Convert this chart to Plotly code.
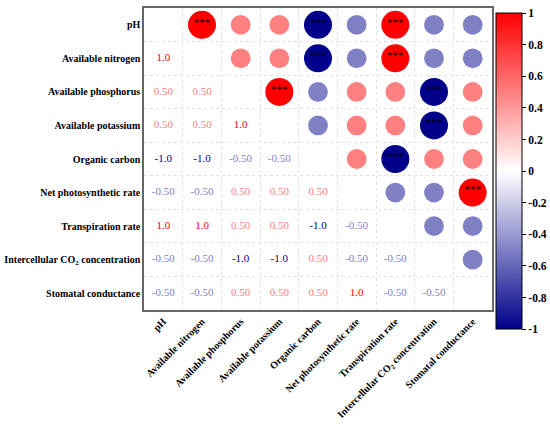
import numpy as np
import plotly.graph_objects as go

variables = [
    "pH",
    "Available nitrogen",
    "Available phosphorus",
    "Available potassium",
    "Organic carbon",
    "Net photosynthetic rate",
    "Transpiration rate",
    "Intercellular CO<sub>2</sub> concentration",
    "Stomatal conductance",
]

# lower triangle of the correlation matrix, row by row
r_lower = [
    [],
    [1.0],
    [0.5, 0.5],
    [0.5, 0.5, 1.0],
    [-1.0, -1.0, -0.5, -0.5],
    [-0.5, -0.5, 0.5, 0.5, 0.5],
    [1.0, 1.0, 0.5, 0.5, -1.0, -0.5],
    [-0.5, -0.5, -1.0, -1.0, 0.5, -0.5, -0.5],
    [-0.5, -0.5, 0.5, 0.5, 0.5, 1.0, -0.5, -0.5],
]

colorbar_ticks = [1, 0.8, 0.6, 0.4, 0.2, 0, -0.2, -0.4, -0.6, -0.8, -1]

n = len(variables)
r = np.eye(n)
for i, row in enumerate(r_lower):
    for j, v in enumerate(row):
        r[i, j] = v
        r[j, i] = v

low_rgb = (0, 0, 139)
mid_rgb = (255, 255, 255)
high_rgb = (255, 0, 0)
colorscale = [[0, "rgb(0,0,139)"], [0.5, "rgb(255,255,255)"], [1, "rgb(255,0,0)"]]


def value_color(v):
    a, b = (mid_rgb, high_rgb) if v >= 0 else (mid_rgb, low_rgb)
    t = abs(v)
    c = [round(a[k] + (b[k] - a[k]) * t) for k in range(3)]
    return f"rgb({c[0]},{c[1]},{c[2]})"


# upper triangle: circles (stars on the significant ones)
cx, cy, cv, csize = [], [], [], []
sx, sy = [], []
# lower triangle: numbers
tx, ty, tt, tc = [], [], [], []
for i in range(n):
    for j in range(n):
        if j > i:
            cx.append(j)
            cy.append(i)
            cv.append(r[i, j])
            csize.append(28 * np.sqrt(abs(r[i, j])))
            if abs(r[i, j]) >= 1:
                sx.append(j)
                sy.append(i - 0.06)
        elif j < i:
            tx.append(j)
            ty.append(i)
            tt.append(f"{r[i, j]:.1f}" if abs(r[i, j]) >= 1 else f"{r[i, j]:.2f}")
            tc.append(value_color(r[i, j]))

serif = "Liberation Serif"

fig = go.Figure()

fig.add_trace(go.Scatter(
    x=cx, y=cy, mode="markers",
    marker=dict(
        size=csize, color=cv, colorscale=colorscale, cmin=-1, cmax=1,
        opacity=1, line=dict(width=0),
        showscale=True,
        colorbar=dict(
            x=1.012, xanchor="left", xpad=0,
            y=0.46, yanchor="middle", ypad=0,
            len=1.047, lenmode="fraction", thickness=26,
            outlinecolor="black", outlinewidth=1,
            tickmode="array", tickvals=colorbar_ticks,
            ticktext=[str(t) for t in colorbar_ticks],
            ticks="outside", ticklen=4, tickcolor="black",
            tickfont=dict(family=serif, size=11.5, color="black", weight="bold"),
        ),
    ),
    hoverinfo="skip", showlegend=False,
))

fig.add_trace(go.Scatter(
    x=sx, y=sy, mode="text", text=["***"] * len(sx),
    textfont=dict(family=serif, size=11, color="black"),
    textposition="middle center",
    hoverinfo="skip", showlegend=False,
))

fig.add_trace(go.Scatter(
    x=tx, y=ty, mode="text", text=tt,
    textfont=dict(family=serif, size=11, color=tc),
    textposition="middle center",
    hoverinfo="skip", showlegend=False,
))

half = [k + 0.5 for k in range(n - 1)]

fig.update_xaxes(
    range=[-0.5, n - 0.5], tickmode="array", tickvals=list(range(n)), ticktext=variables,
    tickangle=-45, tickfont=dict(family=serif, size=10, color="black", weight="bold"),
    showgrid=False, zeroline=False, ticks="", automargin=False,
    showline=True, mirror=True, linecolor="#666666", linewidth=1.5,
    minor=dict(tickmode="array", tickvals=half, showgrid=True, gridcolor="#e2e2e2",
               griddash="dot", gridwidth=1, ticks=""),
)
fig.update_yaxes(
    range=[n - 0.5, -0.5], tickmode="array", tickvals=list(range(n)), ticktext=variables,
    tickfont=dict(family=serif, size=10, color="black", weight="bold"),
    showgrid=False, zeroline=False, ticks="", automargin=False,
    showline=True, mirror=True, linecolor="#666666", linewidth=1.5,
    minor=dict(tickmode="array", tickvals=half, showgrid=True, gridcolor="#e2e2e2",
               griddash="dot", gridwidth=1, ticks=""),
)

fig.update_layout(
    width=550, height=432,
    margin=dict(l=144, r=58, t=8, b=122, autoexpand=False),
    paper_bgcolor="white", plot_bgcolor="white",
    font=dict(family=serif),
)

# drop the page's default body margin so the figure sits at the window corner
fig.write_html("out.html", config={"displayModeBar": False},
               post_script="document.body.style.margin='0';")
